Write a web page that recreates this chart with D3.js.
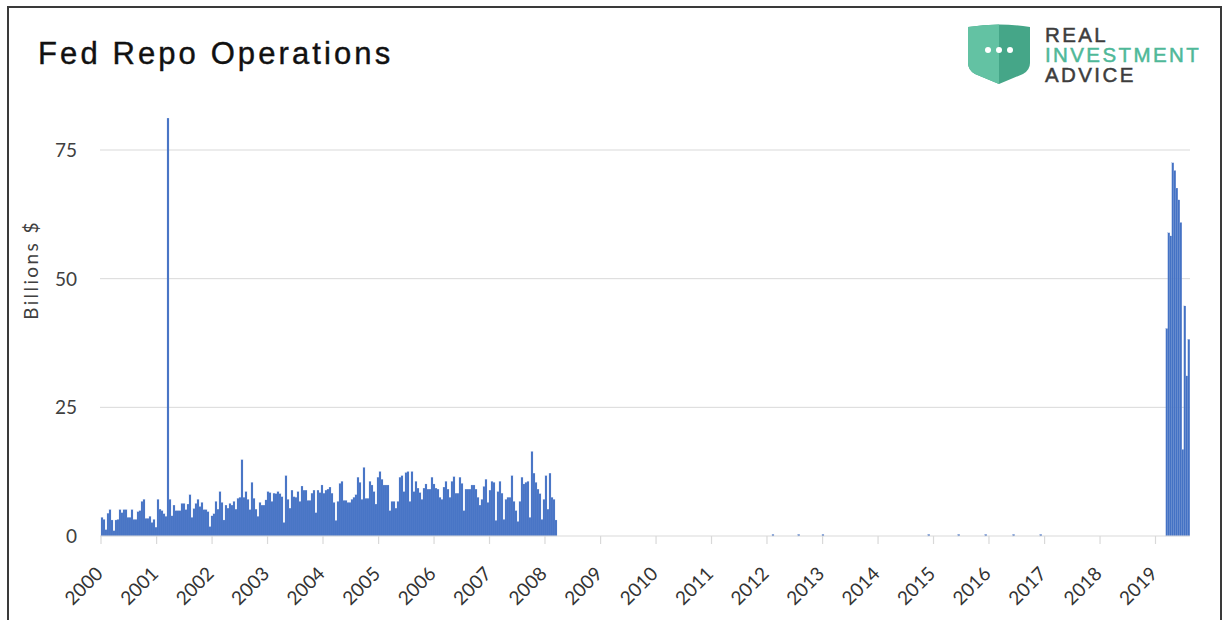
<!DOCTYPE html>
<html>
<head>
<meta charset="utf-8">
<script src="https://cdn.jsdelivr.net/npm/d3@7/dist/d3.min.js"></script>
<style>
  body { margin: 0; background: #fff; }
  svg { display: block; }
</style>
</head>
<body>
<div id="chart"></div>
<script>
// billions $

// 2000-01 .. 2008-03, roughly two weeks per bar
var ops2000Start = "2000-01-01", ops2000End = "2008-03-20";
var ops2000 = [
  3.6,3.2,1.2,4.4,5.1,3.1,1.0,3.1,3.2,5.1,4.5,5.1,5.1,3.6,3.6,5.1,3.2,3.2,4.7,4.9,6.7,7.1,3.4,3.4,3.8,2.6,3.2,1.7,
  7.1,5.2,4.9,4.3,3.8,81.2,7.1,3.9,6.0,4.9,4.9,4.9,6.3,6.3,5.1,6.2,8.0,3.6,5.3,6.3,7.1,5.7,6.5,5.1,5.1,4.7,1.8,
  3.9,4.3,6.7,5.2,8.6,6.5,3.1,6.0,5.4,6.3,6.0,6.7,5.2,7.3,7.5,14.8,7.5,8.6,7.1,5.1,10.4,7.3,5.2,
  3.8,6.5,6.0,6.0,7.0,8.6,8.4,6.7,8.3,8.2,8.6,8.2,7.6,2.6,11.7,7.1,5.4,8.9,7.6,7.5,
  8.6,6.7,9.7,8.9,8.9,6.9,6.9,8.3,8.9,4.5,8.9,8.4,9.9,8.3,8.9,9.1,9.5,8.3,6.5,3.0,
  6.7,10.2,10.6,6.9,6.9,6.5,6.5,7.1,7.5,8.0,11.4,10.4,7.1,13.3,7.3,7.3,10.6,9.9,8.6,6.2,
  11.4,12.5,11.0,9.9,9.9,9.9,4.9,6.7,6.7,5.4,6.7,11.4,11.7,8.6,12.3,12.5,6.7,12.5,8.6,
  10.6,9.3,8.4,7.1,9.3,10.1,9.1,9.1,11.4,10.1,9.3,9.1,7.5,7.1,9.5,10.6,9.1,7.5,10.6,11.5,
  8.3,8.3,11.4,10.2,4.9,9.1,9.1,9.1,9.9,9.9,9.1,7.5,6.0,7.1,9.6,11.0,6.5,8.9,10.6,10.4,
  3.0,8.6,10.6,8.3,3.2,7.1,7.5,7.5,11.7,6.7,4.9,2.8,6.7,11.4,10.1,10.4,10.6,3.6,16.4,12.2,
  10.4,9.1,8.2,3.2,7.1,11.7,5.2,12.2,7.5,7.1,3.1
];

// small test operations 2012-2016
var testDates = ["2012-02-03","2012-07-22","2012-12-28","2014-11-25","2015-06-10","2015-12-05","2016-06-05","2016-12-01"];
var testValues = [0.3,0.3,0.3,0.3,0.3,0.3,0.3,0.3];

// 2019 operations
var ops2019Start = "2019-03-10", ops2019End = "2019-08-15";
var ops2019 = [40.3,58.9,58.3,72.5,71.0,67.6,65.3,60.9,16.8,44.7,31.1,38.2];

var yearTicks = d3.range(2000, 2020);
var yTicks = [0, 25, 50, 75];

var W = 1223, H = 620;
var svg = d3.select("#chart").append("svg").attr("width", W).attr("height", H);
var parse = d3.timeParse("%Y-%m-%d");

var x = d3.scaleTime().domain([new Date(2000,0,1), new Date(2019,0,1)]).range([101, 1155.5]);
var y = d3.scaleLinear().domain([0, 75]).range([536, 150]);

// spread a run of values evenly between two dates
function run(startStr, endStr, vals){
  var t0 = parse(startStr).getTime(), t1 = parse(endStr).getTime(), step = (t1 - t0) / vals.length;
  return vals.map(function(v, i){
    return {d0: new Date(t0 + i*step), d1: new Date(t0 + (i+1)*step), v: v};
  });
}
var bars = run(ops2000Start, ops2000End, ops2000)
  .concat(testDates.map(function(s, i){
    var d = parse(s);
    return {d0: d, d1: d3.timeDay.offset(d, 13), v: testValues[i]};
  }))
  .concat(run(ops2019Start, ops2019End, ops2019));

// frame
svg.append("rect").attr("x", 8).attr("y", 7).attr("width", 1213).attr("height", 700)
  .style("fill", "none").style("stroke", "#3a3a3a").style("stroke-width", 2);

// title
svg.append("text").attr("x", 38).attr("y", 64).text("Fed Repo Operations")
  .style("font-family", "'Liberation Sans', Arial, sans-serif").style("font-size", "31px")
  .style("letter-spacing", "3.1px").style("fill", "#111")
  .style("stroke", "#111").style("stroke-width", 0.4);

// logo
var logo = svg.append("g").attr("transform", "translate(968,23)");
logo.append("path").attr("d", "M0,4 Q31,-1 62,4 L62,40 Q62,47 55,51 L31,61 L7,51 Q0,47 0,40 Z")
  .style("fill", "#45a688");
logo.append("path").attr("d", "M0,4 Q16,1.5 31,1.5 L31,61 L7,51 Q0,47 0,40 Z")
  .style("fill", "#63c2a3");
logo.selectAll("circle").data([-11, 0, 11]).enter().append("circle")
  .attr("cx", function(d){ return 31 + d; }).attr("cy", 27).attr("r", 3).style("fill", "#fff");
var logoText = [["REAL", 42, "#3d3d3d"], ["INVESTMENT", 62, "#4fb898"], ["ADVICE", 82, "#3d3d3d"]];
svg.selectAll("text.logo").data(logoText).enter().append("text").attr("class", "logo")
  .attr("x", 1045).attr("y", function(d){ return d[1]; }).text(function(d){ return d[0]; })
  .style("font-family", "'Liberation Sans', Arial, sans-serif").style("font-size", "20.5px")
  .style("letter-spacing", "2.4px").style("fill", function(d){ return d[2]; })
  .style("stroke", function(d){ return d[2]; }).style("stroke-width", 0.5);

// gridlines
svg.append("g").selectAll("line").data(yTicks.slice(1)).enter().append("line")
  .attr("x1", 100).attr("x2", 1190).attr("y1", y).attr("y2", y)
  .style("stroke", "#d9d9d9").style("stroke-width", 1);

// y labels
svg.append("g").selectAll("text").data(yTicks).enter().append("text")
  .attr("x", 77).attr("y", y).attr("dy", "0.36em").attr("text-anchor", "end")
  .text(function(d){ return d; })
  .style("font-family", "Lato, 'Open Sans', sans-serif").style("font-size", "19px").style("fill", "#404040");

svg.append("text").attr("transform", "translate(38,270) rotate(-90)").attr("text-anchor", "middle")
  .text("Billions $").style("font-family", "Lato, 'Open Sans', sans-serif").style("font-size", "19px")
  .style("letter-spacing", "2.4px").style("fill", "#404040");

// bars
svg.append("g").selectAll("rect").data(bars).enter().append("rect")
  .attr("x", function(d){ return x(d.d0); })
  .attr("width", function(d){ return Math.max(1, x(d.d1) - x(d.d0)); })
  .attr("y", function(d){ return y(d.v); })
  .attr("height", function(d){ return Math.max(1, y(0) - y(d.v)); })
  .style("fill", "#4472c4").style("stroke", "#7d9bd6").style("stroke-width", 0.2);

// x axis
svg.append("line").attr("x1", 100).attr("x2", 1190).attr("y1", y(0)).attr("y2", y(0))
  .style("stroke", "#d9d9d9").style("stroke-width", 1.2);
var xt = svg.append("g").selectAll("g").data(yearTicks).enter().append("g")
  .attr("transform", function(d){ return "translate(" + x(new Date(d,0,1)) + ",0)"; });
xt.append("line").attr("y1", y(0)).attr("y2", y(0) + 8).style("stroke", "#d9d9d9").style("stroke-width", 1.2);
xt.append("text").attr("transform", "translate(3,575) rotate(-45)").attr("text-anchor", "end")
  .text(function(d){ return d; })
  .style("font-family", "Lato, 'Open Sans', sans-serif").style("font-size", "19px").style("fill", "#333");
</script>
</body>
</html>
